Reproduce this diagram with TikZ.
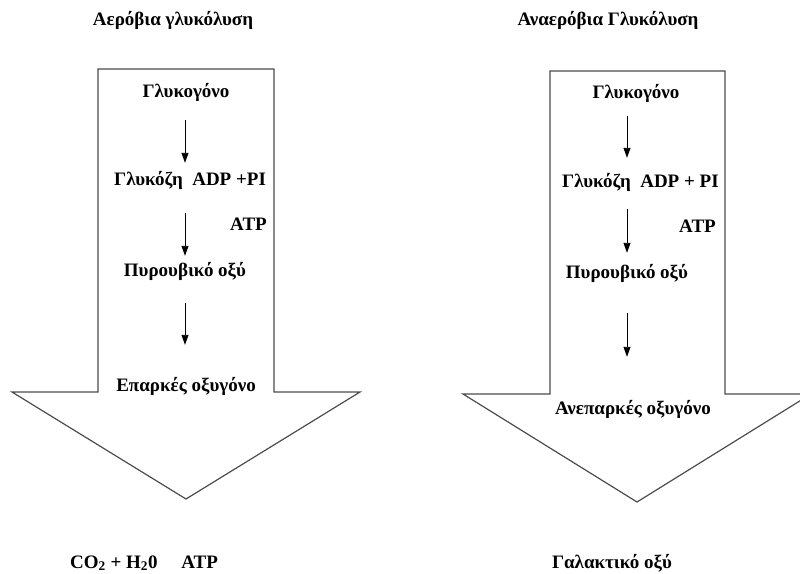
\documentclass[tikz,border=0pt]{standalone}
\usepackage{fontspec}
\setmainfont{Liberation Serif}
\usetikzlibrary{arrows.meta}

\tikzset{
  lbl/.style={font=\bfseries\fontsize{19}{22}\selectfont, inner sep=0pt, text height=13pt, text depth=4pt, anchor=base},
  flow/.style={arrows={-Triangle[length=10pt,width=7pt]}, line width=0.9pt},
  bigarrow/.style={draw=black!70, line width=1.2pt}
}

\begin{document}
\begin{tikzpicture}[x=1pt, y=-1pt]
\clip (0,0) rectangle (800,573);
% the two big arrows
\draw[bigarrow] (98,69) -- (274,69) -- (274,392) -- (360,392) -- (186,499) -- (12,392) -- (98,392) -- cycle;
\draw[bigarrow] (550,71) -- (725,71) -- (725,394) -- (811,394) -- (637,502) -- (463,394) -- (550,394) -- cycle;
% aerobic
\node (t1)[lbl] at (173,25) {Αερόβια γλυκόλυση};
\node (g1)[lbl] at (186,97) {Γλυκογόνο};
\node (g2)[lbl, anchor=base west] at (114,185) {Γλυκόζη\ \ ADP +PI};
\node (a1)[lbl, anchor=base east] at (267,230) {ATP};
\node (p1)[lbl] at (185,276) {Πυρουβικό οξύ};
\node (e1)[lbl] at (186,391) {Επαρκές οξυγόνο};
\node (c1)[lbl, anchor=base west] at (70,568) {CO\textsubscript{2} + H\textsubscript{2}0\ \ \ \ \ ATP};
% anaerobic
\node (t2)[lbl] at (608,25) {Αναερόβια Γλυκόλυση};
\node (g3)[lbl] at (636,98) {Γλυκογόνο};
\node (g4)[lbl, anchor=base west] at (562,187) {Γλυκόζη\ \ ADP + PI};
\node (a2)[lbl, anchor=base east] at (716,232) {ATP};
\node (p2)[lbl] at (627,278) {Πυρουβικό οξύ};
\node (e2)[lbl] at (633,414) {Ανεπαρκές οξυγόνο};
\node (l2)[lbl] at (612,568) {Γαλακτικό οξύ};
% steps
\draw[flow, shorten <=19pt, shorten >=9pt] (p1 |- g1.south) -- (p1 |- g2.north);
\draw[flow, shorten <=24pt, shorten >=7pt] (p1 |- g2.south) -- (p1.north);
\draw[flow, shorten <=23pt, shorten >=33pt] (p1.south) -- (p1 |- e1.north);
\draw[flow, shorten <=14pt, shorten >=16pt] (p2 |- g3.south) -- (p2 |- g4.north);
\draw[flow, shorten <=18pt, shorten >=12pt] (p2 |- g4.south) -- (p2.north);
\draw[flow, shorten <=31pt, shorten >=44pt] (p2.south) -- (p2 |- e2.north);
\end{tikzpicture}
\end{document}
